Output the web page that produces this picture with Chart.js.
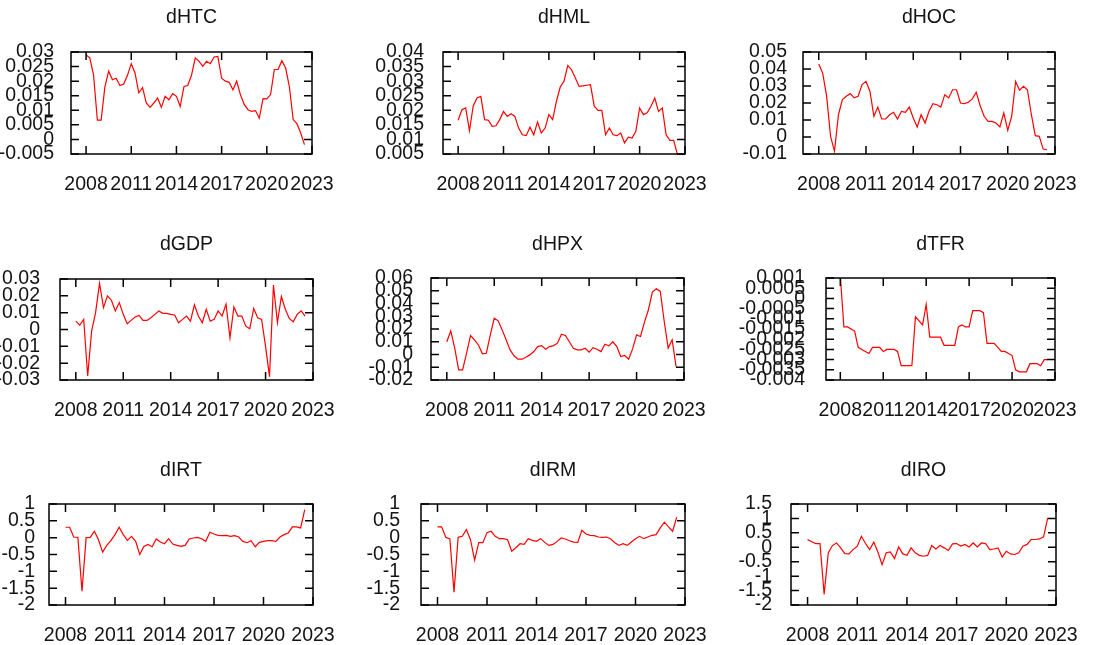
<!DOCTYPE html>
<html>
<head>
<meta charset="utf-8">
<script src="https://cdn.jsdelivr.net/npm/chart.js@4.4.0/dist/chart.umd.min.js"></script>
<style>
  html, body { margin: 0; padding: 0; background: #fff; }
  #wrap { position: relative; width: 1095px; height: 645px; overflow: hidden; background: #fff; }
  #wrap canvas { position: absolute; left: 0; top: 0; }
</style>
</head>
<body>
<div id="wrap"></div>
<script>
// quarterly observations 2008:1 - 2022:3
const periods = [
  '2008:1', '2008:2', '2008:3', '2008:4', '2009:1', '2009:2', '2009:3', '2009:4',
  '2010:1', '2010:2', '2010:3', '2010:4', '2011:1', '2011:2', '2011:3', '2011:4',
  '2012:1', '2012:2', '2012:3', '2012:4', '2013:1', '2013:2', '2013:3', '2013:4',
  '2014:1', '2014:2', '2014:3', '2014:4', '2015:1', '2015:2', '2015:3', '2015:4',
  '2016:1', '2016:2', '2016:3', '2016:4', '2017:1', '2017:2', '2017:3', '2017:4',
  '2018:1', '2018:2', '2018:3', '2018:4', '2019:1', '2019:2', '2019:3', '2019:4',
  '2020:1', '2020:2', '2020:3', '2020:4', '2021:1', '2021:2', '2021:3', '2021:4',
  '2022:1', '2022:2', '2022:3'
];
const xTicks = [2008, 2011, 2014, 2017, 2020, 2023];

const dHTC = [
  0.029, 0.028, 0.022, 0.0066, 0.0066, 0.018, 0.0234, 0.0205, 0.021, 0.0185,
  0.019, 0.022, 0.026, 0.0228, 0.016, 0.0178, 0.0125, 0.011, 0.0125, 0.0142,
  0.011, 0.0148, 0.0136, 0.0157, 0.0148, 0.0113, 0.0182, 0.0185, 0.022, 0.028,
  0.0268, 0.0251, 0.0268, 0.026, 0.0283, 0.0285, 0.021, 0.020, 0.0196, 0.017,
  0.020, 0.0153, 0.012, 0.0102, 0.0096, 0.0099, 0.0073, 0.014, 0.0139, 0.0154,
  0.024, 0.024, 0.027, 0.0245, 0.018, 0.0068, 0.0054, 0.0022, -0.0018
];
const dHML = [
  0.0166, 0.0202, 0.0208, 0.013, 0.0216, 0.0242, 0.0248, 0.0168, 0.0166, 0.0145,
  0.0147, 0.0168, 0.0196, 0.0179, 0.0188, 0.0179, 0.0139, 0.0116, 0.0113, 0.0142,
  0.0116, 0.016, 0.0122, 0.0139, 0.0185, 0.0168, 0.0231, 0.028, 0.030, 0.0354,
  0.0339, 0.0311, 0.0282, 0.0284, 0.0286, 0.0288, 0.0214, 0.020, 0.020, 0.0116,
  0.0139, 0.0116, 0.0113, 0.0122, 0.0088, 0.0108, 0.0105, 0.0128, 0.0208, 0.0185,
  0.0191, 0.0214, 0.0242, 0.0196, 0.0208, 0.0116, 0.0097, 0.0097, 0.0048
];
const dHOC = [
  0.043, 0.0376, 0.024, 0.0004, -0.0084, 0.0131, 0.022, 0.024, 0.0255, 0.023,
  0.024, 0.0308, 0.0327, 0.0269, 0.0122, 0.0176, 0.0106, 0.0106, 0.0131, 0.0145,
  0.0106, 0.0151, 0.0145, 0.0176, 0.0112, 0.0059, 0.0131, 0.0082, 0.0151, 0.0196,
  0.019, 0.0176, 0.0249, 0.023, 0.0278, 0.0278, 0.020, 0.0196, 0.0204, 0.0224,
  0.0263, 0.0184, 0.0122, 0.0092, 0.0092, 0.0082, 0.0059, 0.0141, 0.0039, 0.0122,
  0.0327, 0.0275, 0.0298, 0.0278, 0.0131, 0.0008, 0.0004, -0.0071, -0.0075
];
const dGDP = [
  0.005, 0.0026, 0.006, -0.0276, -0.001, 0.010, 0.0274, 0.013, 0.020, 0.0174,
  0.011, 0.016, 0.009, 0.0034, 0.0054, 0.0074, 0.0084, 0.0054, 0.0054, 0.007,
  0.009, 0.011, 0.0096, 0.0096, 0.009, 0.0086, 0.004, 0.006, 0.008, 0.005,
  0.0146, 0.008, 0.004, 0.012, 0.005, 0.006, 0.011, 0.008, 0.015, -0.005,
  0.0134, 0.008, 0.008, 0.002, 0.0004, 0.0124, 0.007, 0.006, -0.010, -0.028,
  0.0264, 0.004, 0.0196, 0.012, 0.0066, 0.0046, 0.009, 0.011, 0.008
];
const dHPX = [
  0.010, 0.0186, 0.005, -0.012, -0.012, 0.001, 0.0149, 0.0115, 0.0075, 0.0005,
  0.001, 0.0154, 0.0285, 0.0264, 0.0193, 0.0115, 0.0036, -0.001, -0.0037, -0.0037,
  -0.0021, -0.0003, 0.0023, 0.0062, 0.007, 0.0041, 0.0062, 0.007, 0.0089, 0.0159,
  0.0149, 0.010, 0.0049, 0.0036, 0.0036, 0.0049, 0.0018, 0.0054, 0.0041, 0.0023,
  0.008, 0.0068, 0.010, 0.0062, -0.0016, -0.0008, -0.0037, 0.0044, 0.0154, 0.0141,
  0.0254, 0.0351, 0.049, 0.0516, 0.0495, 0.0259, 0.005, 0.0115, -0.0095
];
const dTFR = [
  0.0011, -0.0014, -0.0014, -0.0015, -0.0016, -0.0024, -0.0025, -0.0026, -0.0027, -0.0024,
  -0.0024, -0.0024, -0.0026, -0.0025, -0.0025, -0.0025, -0.0026, -0.0033, -0.0033, -0.0033,
  -0.0033, -0.0009, -0.0011, -0.0013, -0.0003, -0.0019, -0.0019, -0.0019, -0.0019, -0.0023,
  -0.0023, -0.0023, -0.0023, -0.0014, -0.0013, -0.0014, -0.0014, -0.0006, -0.0006, -0.0006,
  -0.0007, -0.0022, -0.0022, -0.0022, -0.0024, -0.0026, -0.0026, -0.0027, -0.0028, -0.0035,
  -0.0036, -0.0036, -0.0036, -0.0032, -0.0032, -0.0032, -0.0033, -0.003, -0.003
];
const dIRT = [
  0.31, 0.31, 0.02, 0.01, -1.59, 0.0, 0.01, 0.19, -0.06, -0.43,
  -0.23, -0.09, 0.09, 0.31, 0.09, -0.08, 0.04, -0.11, -0.5, -0.26,
  -0.2, -0.27, -0.04, -0.13, -0.18, -0.03, -0.19, -0.23, -0.26, -0.23,
  -0.04, -0.01, 0.01, -0.03, -0.11, 0.16, 0.11, 0.07, 0.06, 0.07,
  0.04, 0.06, 0.02, -0.11, -0.15, -0.09, -0.27, -0.14, -0.11, -0.09,
  -0.09, -0.11, 0.02, 0.09, 0.14, 0.32, 0.32, 0.29, 0.83
];
const dIRM = [
  0.32, 0.32, 0.01, -0.04, -1.62, 0.01, 0.04, 0.24, -0.06, -0.67,
  -0.15, -0.15, 0.15, 0.19, 0.04, -0.03, -0.03, -0.06, -0.40, -0.30,
  -0.18, -0.20, -0.03, -0.08, -0.11, -0.03, -0.14, -0.23, -0.20, -0.11,
  -0.01, -0.04, -0.09, -0.13, -0.14, 0.22, 0.11, 0.07, 0.06, 0.02,
  0.01, 0.02, -0.04, -0.15, -0.23, -0.18, -0.23, -0.13, -0.03, 0.04,
  -0.03, 0.02, 0.07, 0.09, 0.29, 0.46, 0.32, 0.19, 0.61
];
const dIRO = [
  0.27, 0.19, 0.13, 0.13, -1.63, -0.2, 0.06, 0.15, -0.02, -0.22,
  -0.23, -0.08, 0.04, 0.38, 0.13, -0.08, 0.18, -0.17, -0.6, -0.19,
  -0.16, -0.39, 0.01, -0.23, -0.28, -0.02, -0.19, -0.28, -0.31, -0.28,
  0.06, -0.06, 0.06, -0.02, -0.11, 0.12, 0.13, 0.04, 0.10, 0.01,
  0.15, 0.01, 0.15, 0.13, -0.08, -0.06, -0.02, -0.34, -0.14, -0.23,
  -0.25, -0.19, 0.04, 0.10, 0.27, 0.27, 0.29, 0.36, 1.02
];

const ticksHTC = [-0.005, 0, 0.005, 0.01, 0.015, 0.02, 0.025, 0.03];
const ticksHML = [0.005, 0.01, 0.015, 0.02, 0.025, 0.03, 0.035, 0.04];
const ticksHOC = [-0.01, 0, 0.01, 0.02, 0.03, 0.04, 0.05];
const ticksGDP = [-0.03, -0.02, -0.01, 0, 0.01, 0.02, 0.03];
const ticksHPX = [-0.02, -0.01, 0, 0.01, 0.02, 0.03, 0.04, 0.05, 0.06];
const ticksTFR = [-0.004, -0.0035, -0.003, -0.0025, -0.002, -0.0015, -0.001, -0.0005, 0, 0.0005, 0.001];
const ticksIRT = [-2, -1.5, -1, -0.5, 0, 0.5, 1];
const ticksIRM = [-2, -1.5, -1, -0.5, 0, 0.5, 1];
const ticksIRO = [-2, -1.5, -1, -0.5, 0, 0.5, 1, 1.5];

// box = [left, top, right, bottom] of the plot frame
const panels = [
  { title: 'dHTC', values: dHTC, yTicks: ticksHTC, box: [71, 52, 312, 154], gap: 9, titleY: 18 },
  { title: 'dHML', values: dHML, yTicks: ticksHML, box: [443, 52, 685, 154], gap: 11, titleY: 18 },
  { title: 'dHOC', values: dHOC, yTicks: ticksHOC, box: [803, 52, 1055, 154], gap: 8, titleY: 18 },
  { title: 'dGDP', values: dGDP, yTicks: ticksGDP, box: [60, 279, 313, 380], gap: 12, titleY: 245 },
  { title: 'dHPX', values: dHPX, yTicks: ticksHPX, box: [431, 278, 684, 380], gap: 10, titleY: 245 },
  { title: 'dTFR', values: dTFR, yTicks: ticksTFR, box: [826, 278, 1055, 380], gap: 13, titleY: 245 },
  { title: 'dIRT', values: dIRT, yTicks: ticksIRT, box: [49, 504, 313, 605], gap: 6, titleY: 471 },
  { title: 'dIRM', values: dIRM, yTicks: ticksIRM, box: [421, 504, 685, 605], gap: 13, titleY: 471 },
  { title: 'dIRO', values: dIRO, yTicks: ticksIRO, box: [791, 504, 1056, 605], gap: 11, titleY: 471 }
];

const W = 1095, H = 645;
const FONT = "'Liberation Sans', Arial, sans-serif";
const TEXT = '#141414';

function periodToX(p) {
  const [y, q] = p.split(':').map(Number);
  return y + (q - 1) / 4;
}

function fmt(v) {
  return String(+v.toFixed(6));
}

// frame with inward ticks on all four sides + title centred on the plot
const framePlugin = {
  id: 'frame',
  afterDatasetsDraw(chart, args, opts) {
    const { ctx, chartArea: a, scales: { x, y } } = chart;
    const len = 8;
    ctx.save();
    ctx.strokeStyle = '#000';
    ctx.lineWidth = 1.5;
    ctx.beginPath();
    xTicks.forEach(v => {
      const px = x.getPixelForValue(v);
      ctx.moveTo(px, a.bottom); ctx.lineTo(px, a.bottom - len);
      ctx.moveTo(px, a.top); ctx.lineTo(px, a.top + len);
    });
    opts.yTicks.forEach(v => {
      const py = y.getPixelForValue(v);
      ctx.moveTo(a.left, py); ctx.lineTo(a.left + len, py);
      ctx.moveTo(a.right, py); ctx.lineTo(a.right - len, py);
    });
    ctx.stroke();
    ctx.strokeRect(a.left, a.top, a.right - a.left, a.bottom - a.top);
    ctx.fillStyle = TEXT;
    ctx.font = '19.5px ' + FONT;
    ctx.textAlign = 'center';
    ctx.textBaseline = 'middle';
    ctx.fillText(opts.title, (a.left + a.right) / 2, opts.titleY);
    ctx.restore();
  }
};

const wrap = document.getElementById('wrap');

panels.forEach(p => {
  const canvas = document.createElement('canvas');
  canvas.width = W;
  canvas.height = H;
  wrap.appendChild(canvas);
  const [l, t, r, b] = p.box;

  new Chart(canvas.getContext('2d'), {
    type: 'line',
    data: {
      datasets: [{
        data: periods.map((q, i) => ({ x: periodToX(q), y: p.values[i] })),
        borderColor: '#ff0000',
        borderWidth: 1.2,
        pointRadius: 0,
        tension: 0,
        fill: false
      }]
    },
    options: {
      responsive: false,
      animation: false,
      events: [],
      layout: { padding: { left: 0, top: t, right: W - r, bottom: 0 } },
      plugins: {
        legend: { display: false },
        tooltip: { enabled: false },
        frame: { title: p.title, titleY: p.titleY, yTicks: p.yTicks }
      },
      scales: {
        x: {
          type: 'linear',
          min: 2007,
          max: 2023,
          grid: { display: false },
          border: { display: false },
          afterBuildTicks: s => { s.ticks = xTicks.map(v => ({ value: v })); },
          afterFit: s => { s.height = H - b; },
          ticks: {
            autoSkip: false,
            maxRotation: 0,
            minRotation: 0,
            padding: 11,
            color: TEXT,
            font: { family: FONT, size: 19.5 },
            callback: v => String(v)
          }
        },
        y: {
          type: 'linear',
          min: p.yTicks[0],
          max: p.yTicks[p.yTicks.length - 1],
          grid: { display: false },
          border: { display: false },
          afterBuildTicks: s => { s.ticks = p.yTicks.map(v => ({ value: v })); },
          afterFit: s => { s.width = l; },
          ticks: {
            autoSkip: false,
            padding: p.gap,
            color: TEXT,
            font: { family: FONT, size: 19.5 },
            callback: v => fmt(v)
          }
        }
      }
    },
    plugins: [framePlugin]
  });
});
</script>
</body>
</html>
